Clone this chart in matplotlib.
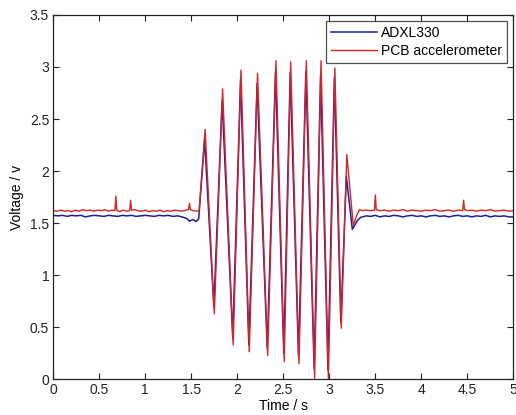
import matplotlib
matplotlib.use("Agg")
import matplotlib.pyplot as plt

plt.rcParams['font.family'] = ['Liberation Sans', 'DejaVu Sans']

# PCB accelerometer (red) samples: time (s), voltage (V)
pcb_t = [0.00, 0.04, 0.08, 0.12, 0.16, 0.20, 0.24, 0.28, 0.32, 0.36, 0.40, 0.44,
         0.48, 0.52, 0.56, 0.60, 0.64, 0.67, 0.68, 0.69, 0.72, 0.76, 0.80, 0.83,
         0.84, 0.85, 0.88, 0.92, 0.96, 1.00, 1.04, 1.08, 1.12, 1.16, 1.20, 1.24,
         1.28, 1.32, 1.36, 1.40, 1.44, 1.47, 1.48, 1.49, 1.52, 1.56, 1.585,
         1.65, 1.75, 1.84, 1.955, 2.04, 2.13, 2.22, 2.33, 2.42, 2.51, 2.58, 2.67,
         2.75, 2.84, 2.91, 2.99, 3.06, 3.13, 3.19, 3.26, 3.30, 3.33, 3.36, 3.40,
         3.44, 3.49, 3.50, 3.51, 3.55, 3.60, 3.65, 3.70, 3.75, 3.80, 3.85, 3.90,
         3.95, 4.00, 4.05, 4.10, 4.15, 4.20, 4.25, 4.30, 4.35, 4.40, 4.45, 4.46,
         4.47, 4.50, 4.55, 4.60, 4.65, 4.70, 4.75, 4.80, 4.85, 4.90, 4.95, 5.00]
pcb_v = [1.620, 1.615, 1.625, 1.615, 1.620, 1.610, 1.625, 1.615, 1.630, 1.620, 1.625, 1.615,
         1.625, 1.620, 1.630, 1.615, 1.625, 1.620, 1.760, 1.625, 1.610, 1.625, 1.615, 1.620,
         1.720, 1.625, 1.630, 1.620, 1.615, 1.625, 1.610, 1.620, 1.615, 1.625, 1.610, 1.620,
         1.615, 1.625, 1.620, 1.615, 1.625, 1.630, 1.690, 1.630, 1.620, 1.615, 1.620,
         2.40, 0.63, 2.79, 0.33, 2.97, 0.265, 2.94, 0.23, 3.06, 0.17, 3.05, 0.15,
         3.06, 0.01, 3.06, 0.00, 2.99, 0.49, 2.16, 1.48, 1.58, 1.63, 1.620, 1.625,
         1.620, 1.625, 1.770, 1.630, 1.620, 1.625, 1.615, 1.625, 1.620, 1.630, 1.615, 1.625,
         1.620, 1.615, 1.625, 1.620, 1.630, 1.615, 1.620, 1.625, 1.615, 1.625, 1.620, 1.720,
         1.630, 1.620, 1.625, 1.615, 1.625, 1.620, 1.630, 1.615, 1.620, 1.625, 1.615, 1.620]

# ADXL330 (blue) samples: time (s), voltage (V)
adxl_t = [0.00, 0.05, 0.10, 0.15, 0.20, 0.25, 0.30, 0.35, 0.40, 0.45, 0.50, 0.55,
          0.60, 0.65, 0.70, 0.75, 0.80, 0.85, 0.90, 0.95, 1.00, 1.05, 1.10, 1.15,
          1.20, 1.25, 1.30, 1.35, 1.40, 1.45, 1.48, 1.52, 1.55, 1.58,
          1.645, 1.745, 1.835, 1.95, 2.035, 2.125, 2.215, 2.325, 2.415, 2.505,
          2.575, 2.665, 2.745, 2.835, 2.905, 2.985, 3.055, 3.125, 3.185, 3.25,
          3.30, 3.34, 3.40, 3.45, 3.50, 3.55, 3.60, 3.65, 3.70, 3.75, 3.80, 3.85,
          3.90, 3.95, 4.00, 4.05, 4.10, 4.15, 4.20, 4.25, 4.30, 4.35, 4.40, 4.45,
          4.50, 4.55, 4.60, 4.65, 4.70, 4.75, 4.80, 4.85, 4.90, 4.95, 5.00]
adxl_v = [1.575, 1.570, 1.575, 1.565, 1.575, 1.570, 1.575, 1.560, 1.570, 1.575, 1.570, 1.565,
          1.575, 1.570, 1.565, 1.575, 1.570, 1.575, 1.565, 1.570, 1.575, 1.570, 1.565, 1.575,
          1.570, 1.575, 1.565, 1.570, 1.560, 1.545, 1.520, 1.535, 1.515, 1.540,
          2.30, 0.70, 2.68, 0.40, 2.88, 0.33, 2.84, 0.30, 2.95, 0.25,
          2.95, 0.22, 2.96, 0.10, 2.92, 0.09, 2.90, 0.55, 1.95, 1.44,
          1.52, 1.555, 1.570, 1.565, 1.575, 1.560, 1.570, 1.565, 1.575, 1.570, 1.560, 1.570,
          1.575, 1.565, 1.570, 1.560, 1.570, 1.575, 1.565, 1.570, 1.560, 1.570, 1.575, 1.565,
          1.570, 1.560, 1.570, 1.565, 1.575, 1.560, 1.570, 1.565, 1.570, 1.560, 1.560]

x_ticks = [0, 0.5, 1, 1.5, 2, 2.5, 3, 3.5, 4, 4.5, 5]
x_labels = ['0', '0.5', '1', '1.5', '2', '2.5', '3', '3.5', '4', '4.5', '5']
y_ticks = [0, 0.5, 1, 1.5, 2, 2.5, 3, 3.5]
y_labels = ['0', '0.5', '1', '1.5', '2', '2.5', '3', '3.5']

fig = plt.figure(figsize=(5.16, 4.15), dpi=100)
ax = fig.add_axes([0.1033, 0.086, 0.8915, 0.878])

ax.plot(adxl_t, adxl_v, color='#1c1ca6', lw=1.1, label='ADXL330')
ax.plot(pcb_t, pcb_v, color='#d62424', lw=1.0, label='PCB accelerometer')

ax.set_xlim(0, 5)
ax.set_ylim(0, 3.5)
ax.set_xticks(x_ticks)
ax.set_xticklabels(x_labels)
ax.set_yticks(y_ticks)
ax.set_yticklabels(y_labels)
ax.tick_params(direction='in', top=True, right=True, length=4, width=0.8,
               labelsize=10, colors='#222222', pad=3)
for s in ax.spines.values():
    s.set_linewidth(0.9)
    s.set_color('#222222')

ax.set_xlabel('Time / s', fontsize=10, labelpad=1)
ax.set_ylabel('Voltage / v', fontsize=10, labelpad=4)

leg = ax.legend(loc='upper right', fontsize=10, frameon=True, fancybox=False,
                edgecolor='#222222', borderaxespad=0.45, handlelength=3.3,
                handletextpad=0.3, borderpad=0.35, labelspacing=0.3)
leg.get_frame().set_linewidth(0.9)

fig.savefig('out.png', dpi=100)
